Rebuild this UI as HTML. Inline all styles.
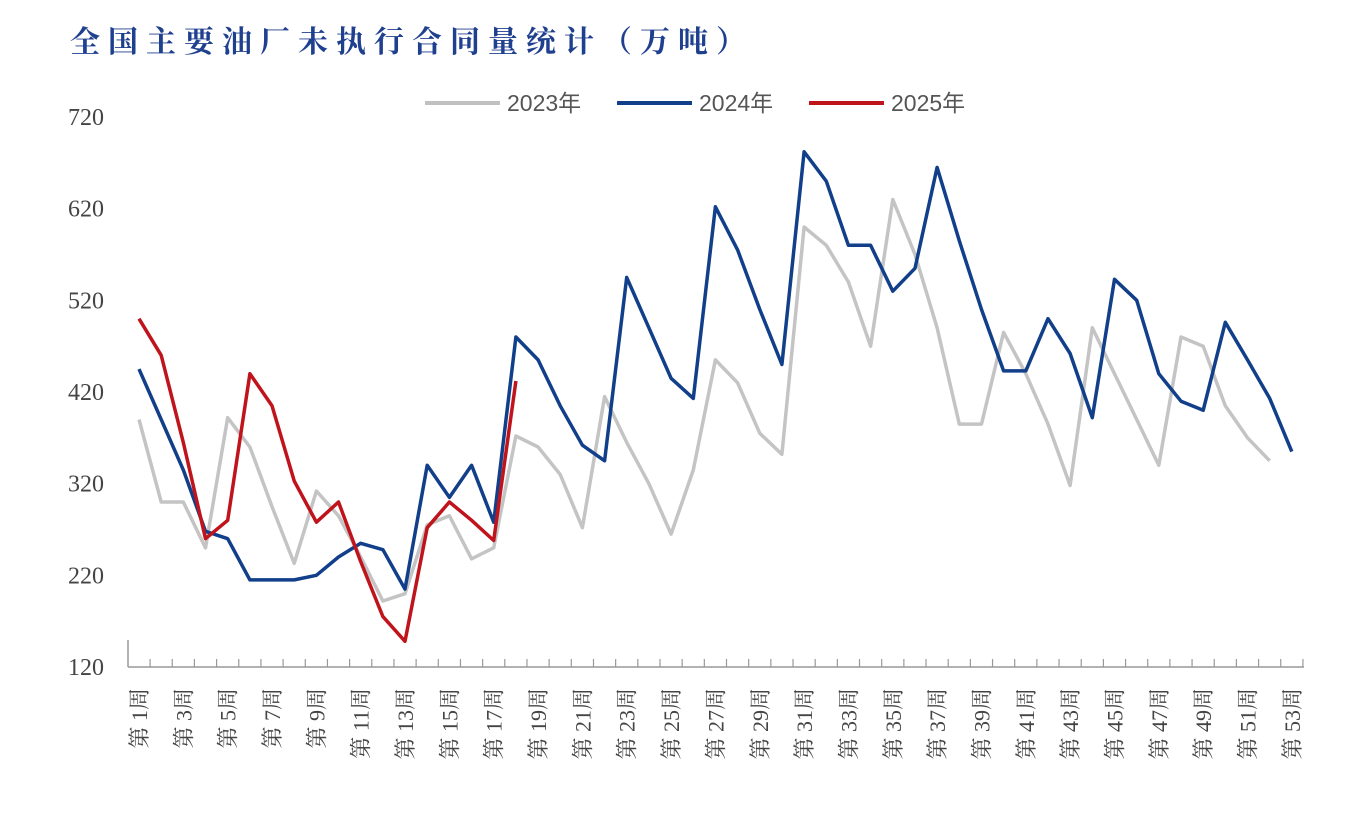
<!DOCTYPE html>
<html><head><meta charset="utf-8"><style>
body{margin:0;background:#fff;width:1365px;height:813px;overflow:hidden}
svg{display:block}
</style></head><body>
<svg id="s" width="1365" height="813" xmlns="http://www.w3.org/2000/svg">
<text x="70" y="52" font-family="Noto Serif CJK SC, serif" font-weight="bold" font-size="30" fill="#1f3f8f" letter-spacing="8">全国主要油厂未执行合同量统计（万吨）</text>
<g font-family="Liberation Sans, Noto Sans CJK SC, sans-serif" font-size="23" fill="#555">
<line x1="425" y1="103" x2="500" y2="103" stroke="#c0c0c0" stroke-width="4"/>
<text x="507" y="111">2023年</text>
<line x1="617" y1="103" x2="692" y2="103" stroke="#123f8a" stroke-width="4"/>
<text x="699" y="111">2024年</text>
<line x1="809" y1="103" x2="884" y2="103" stroke="#c0141c" stroke-width="4"/>
<text x="891" y="111">2025年</text>
</g>
<g id="g"></g>
</svg>
<script>
var g=document.getElementById('g');
function Y(v){return 667-(v-120)*550/600}
function X(w){return 139+(w-1)*22.17}
var h='';
for(var v=120;v<=720;v+=100){h+='<text x="104" y="'+(Y(v)+8)+'" text-anchor="end" font-family="Liberation Serif, serif" font-size="24" fill="#444">'+v+'</text>';}
h+='<line x1="128" y1="667" x2="1304" y2="667" stroke="#999" stroke-width="1.5"/>';
h+='<line x1="128" y1="640" x2="128" y2="667" stroke="#999" stroke-width="1.5"/>';
for(var w=1;w<=53;w++){var x=X(w)+11.08;h+='<line x1="'+x+'" y1="659" x2="'+x+'" y2="667" stroke="#999" stroke-width="1.2"/>';}
for(var w=1;w<=53;w+=2){var x=X(w)+8;h+='<text transform="translate('+x+',688) rotate(-90)" text-anchor="end" font-family="Liberation Serif, Noto Serif CJK SC, serif" font-size="22" fill="#444">第 '+w+'周</text>';}
var d23=[390,300,300,250,392,360,295,233,312,285,240,192,200,275,285,238,250,372,360,330,272,415,365,320,265,335,455,430,375,352,600,580,540,470,630,570,490,385,385,485,440,385,318,490,440,390,340,480,470,405,370,345];
var d24=[445,390,335,268,260,215,215,215,220,240,255,248,205,340,305,340,278,480,455,405,362,345,545,490,435,413,622,575,510,450,682,650,580,580,530,555,665,585,510,443,443,500,462,392,543,520,440,410,400,496,455,413,355];
var d25=[500,460,365,260,280,440,405,323,278,300,235,175,148,272,300,280,258,432];
function line(d,c){var p=d.map(function(v,i){return X(i+1).toFixed(1)+','+Y(v).toFixed(1)}).join(' ');return '<polyline points="'+p+'" fill="none" stroke="'+c+'" stroke-width="3.5" stroke-linejoin="round"/>';}
h+=line(d23,'#c4c4c4')+line(d24,'#123f8a')+line(d25,'#c0141c');
g.innerHTML=h;
</script>
</body></html>
